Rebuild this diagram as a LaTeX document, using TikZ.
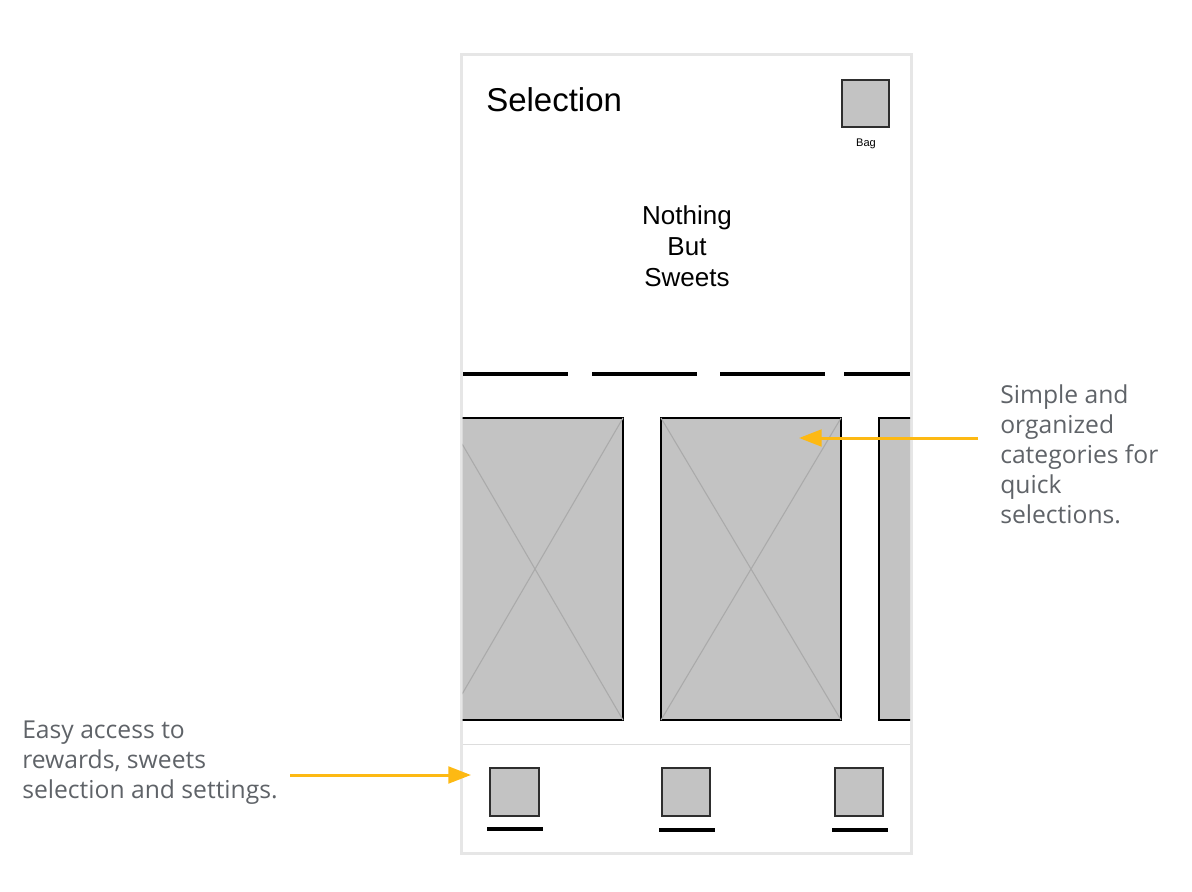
\documentclass[tikz,border=0pt]{standalone}
\usepackage{fontspec}
\setmainfont{Liberation Sans}
\newfontfamily\annotfont{Open Sans}
\usetikzlibrary{arrows.meta}
\definecolor{framegray}{HTML}{E6E6E6}
\definecolor{boxfill}{HTML}{C3C3C3}
\definecolor{boxline}{HTML}{2E2E2E}
\definecolor{crossgray}{HTML}{AAAAAA}
\definecolor{sepgray}{HTML}{DDDDDD}
\definecolor{arrowor}{HTML}{FDB913}
\definecolor{annotgray}{HTML}{5F6368}
\tikzset{
  iconbox/.style={fill=boxfill, draw=boxline, line width=1.5pt},
  cardbox/.style={fill=boxfill, draw=black, line width=1.1pt},
  crossline/.style={draw=crossgray, line width=0.8pt},
  tabline/.style={line width=3pt},
  underl/.style={line width=2.8pt},
  callout/.style={draw=arrowor, line width=2.25pt, -{Triangle[length=17pt,width=12.5pt]}},
  annot/.style={inner sep=0pt, align=left, text=annotgray, font=\annotfont\fontsize{18.5pt}{22.5pt}\selectfont}
}
\begin{document}
\begin{tikzpicture}[x=0.75pt,y=-0.75pt]
\useasboundingbox (0,0) rectangle (1192,892);
% phone frame
\draw[draw=framegray, line width=2.25pt, fill=white] (461,55) rectangle (911,853);
% title
\node[anchor=base west, inner sep=0pt, font=\fontsize{24.75pt}{30pt}\selectfont] (title) at (486,112) {Selection};
% bag
\draw[iconbox] (842,80) rectangle (889,127);
\node[anchor=base, inner sep=0pt, font=\fontsize{8.3pt}{10pt}\selectfont] (baglbl) at (866,146) {Bag};
% brand
\node[anchor=north, inner sep=0pt, align=center, font=\fontsize{19.5pt}{23.25pt}\selectfont] (brand) at (687,205.5) {Nothing\\But\\Sweets};
% tabs
\draw[tabline] (463,374) -- (568,374);
\draw[tabline] (592,374) -- (697,374);
\draw[tabline] (720,374) -- (825,374);
\draw[tabline] (844,374) -- (910,374);
% cards (clipped to frame interior)
\begin{scope}
\clip (462.5,56) rectangle (910.2,852);
\draw[cardbox] (447,418) rectangle (623,720);
\draw[crossline] (447,418) -- (623,720) (623,418) -- (447,720);
\draw[cardbox] (661,418) rectangle (841,720);
\draw[crossline] (661,418) -- (841,720) (841,418) -- (661,720);
\draw[cardbox] (879,418) rectangle (1059,720);
\end{scope}
\coordinate (cardtarget) at (799,438);
% separator
\draw[draw=sepgray, line width=1.2pt] (463,744.5) -- (910,744.5);
% bottom icons
\draw[iconbox] (490,768) rectangle (538.5,815.5);
\draw[iconbox] (662,768) rectangle (710,815.5);
\draw[iconbox] (835,768) rectangle (883,815.5);
\coordinate (navtarget) at (471,775);
\draw[underl] (487,829.3) -- (543,829.3);
\draw[underl] (659,830) -- (715,830);
\draw[underl] (832,830) -- (888,830);
% annotations
\node[annot, anchor=north west] (noteR) at (1000,384) {Simple and\\organized\\categories for\\quick\\selections.};
\node[annot, anchor=north west] (noteL) at (22,721) {Easy access to\\rewards, sweets\\selection and settings.};
\coordinate (arrRstart) at (978,438);
\coordinate (arrLstart) at (290,775);
\draw[callout] (arrRstart) -- (cardtarget);
\draw[callout] (arrLstart) -- (navtarget);
\end{tikzpicture}
\end{document}
